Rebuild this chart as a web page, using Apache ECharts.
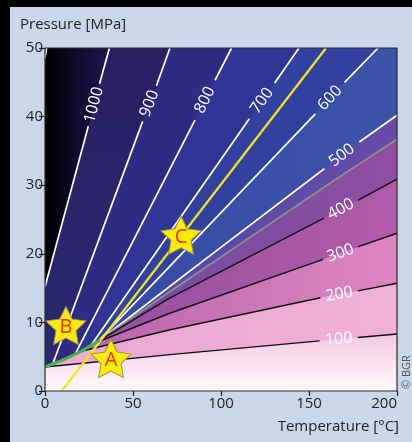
<!DOCTYPE html>
<html><head><meta charset="utf-8">
<script src="https://cdn.jsdelivr.net/npm/echarts@6/dist/echarts.min.js"></script>
<style>html,body{margin:0;padding:0;background:#c9d7e9;overflow:hidden}#c{width:412px;height:442px}</style>
</head><body><div id="c"></div>
<script>
// ---- data ----
const xTicks = [0, 50, 100, 150, 200];
const yTicks = [0, 10, 20, 30, 40, 50];
const satCurve = [[0,3.5],[10,4.5],[20,5.7],[31,7.4]];
const iso1100 = [[0,48.5],[0.9,50]];
const iso1000 = [[0,15.2],[24.6,38.6],null,[31.0,44.8],[36.6,50]];
const iso900  = [[4.5,4.0],[55.5,39.3],null,[63.3,44.5],[71,50]];
const iso800  = [[17,5.3],[85.2,39.5],null,[96.6,45.3],[106,50]];
const iso700  = [[26,6.6],[116.1,39.7],null,[130.5,44.9],[144.3,50]];
const iso600  = [[30,7.2],[153.6,40.4],null,[170.2,45.0],[189.2,50]];
const iso500  = [[31,7.4],[91.5,19.3],[158.7,32.4],null,[178.6,36.3],[200,40.2]];
const isoCrit = [[31,7.4],[71,14.5],[164.8,30.8],[200,36.7]];
const iso400  = [[30.5,7.3],[70.5,13.5],[158.5,25.2],null,[177.7,27.8],[200,30.9]];
const iso300  = [[28.5,7.0],[70.5,11.3],[158,19.2],null,[177.7,21.0],[200,23.0]];
const iso200  = [[20.5,5.8],[70.5,8.9],[156.5,13.6],null,[177.7,14.6],[200,15.7]];
const iso100  = [[0,3.5],[71,5.3],[156,7.3],null,[177.7,7.8],[200,8.3]];
const geoGradient = [[9.5,0],[159.7,50]];
const labelText = ['1000','900','800','700','600','500','400','300','200','100'];
const labelT = [27.8, 59.4, 90.9, 123.3, 161.9, 168.7, 168.1, 167.9, 167.1, 166.9];
const labelP = [41.7, 41.9, 42.4, 42.3, 42.7, 34.35, 26.5, 20.1, 14.1, 7.55];
const starNames = ['A','B','C'];
const starT = [37.5, 11.9, 77.3];
const starP = [4.74, 9.55, 22.7];

// ---- rendering ----
const FONT = '"Open Sans", "Noto Sans", sans-serif';
const labelLines = [iso1000, iso900, iso800, iso700, iso600, iso500, iso400, iso300, iso200, iso100];
const LG = (x0,y0,x1,y1,stops) => new echarts.graphic.LinearGradient(x0,y0,x1,y1,stops.map(s=>({offset:s[0],color:s[1]})));

function regionBelow(line){
  const pts = line.filter(p => p);
  const start = pts[0], end = pts[pts.length-1];
  const poly = pts.slice();
  if (end[1] >= 50 && end[0] < 200) poly.push([200,50]);
  poly.push([200,0],[0,0]);
  if (start[0] > 0) satCurve.forEach(s => { if (s[0] < start[0]) poly.push(s); });
  return poly;
}
const bands = [
  {pts: [[0,0],[0,50],[200,50],[200,0]], fill: LG(0,0,1,0,[[0,'#000000'],[0.08,'#0e0829'],[0.18,'#1f1650'],[1,'#2a2266']])},
  {pts: regionBelow(iso1000), fill: LG(0,0,0,1,[[0,'#2a1f62'],[1,'#2a2a74']])},
  {pts: regionBelow(iso900), fill: '#2d2c82'},
  {pts: regionBelow(iso800), fill: '#2f3594'},
  {pts: regionBelow(iso700), fill: '#3240a0'},
  {pts: regionBelow(iso600), fill: LG(0,0,1,0,[[0,'#3548a6'],[1,'#3b55a9']])},
  {pts: regionBelow(iso500), fill: LG(0,0,1,0,[[0,'#4a4aa6'],[1,'#664ba8']])},
  {pts: regionBelow(isoCrit), fill: LG(0,0,1,0,[[0,'#6a4a9e'],[1,'#904ea2']])},
  {pts: regionBelow(iso400), fill: LG(0,0,1,0,[[0,'#8e4e9f'],[1,'#b25ba9']])},
  {pts: regionBelow(iso300), fill: LG(0,0,1,0,[[0.1,'#b864ae'],[1,'#de86c2']])},
  {pts: regionBelow(iso200), fill: LG(0,0,1,0,[[0,'#eaa8d2'],[1,'#f0b0d7']])},
  {pts: regionBelow(iso100), fill: LG(0,0,0,1,[[0,'#f5c9e2'],[1,'#fffafc']])}
];

function segs(arr){
  const out=[]; let cur=[];
  arr.forEach(p => { if (p) cur.push(p); else { out.push(cur); cur=[]; } });
  out.push(cur); return out;
}
const series = [];
series.push({
  type:'custom', silent:true, z:1, clip:true,
  data: bands.map(() => [0,0]),
  renderItem: (params, api) => ({
    type:'polygon',
    shape:{points: bands[params.dataIndex].pts.map(p => api.coord(p))},
    style:{fill: bands[params.dataIndex].fill}
  })
});
function addLine(arr, color, width, z){
  segs(arr).forEach(s => series.push({
    type:'line', data:s, symbol:'none', silent:true, z:z||3,
    lineStyle:{color, width}, clip:true
  }));
}
[iso1100, iso1000, iso900, iso800, iso700, iso600, iso500].forEach(a => addLine(a, '#ffffff', 1.7));
addLine(isoCrit, '#8e8e8e', 1.7);
[iso400, iso300, iso200, iso100].forEach(a => addLine(a, '#111111', 1.4));
addLine(geoGradient, '#eee620', 2.2, 4);
addLine(satCurve, '#4caf4a', 3, 5);

series.push({
  type:'custom', silent:true, z:6,
  data: labelText.map((t,i) => [labelT[i], labelP[i]]),
  renderItem: (params, api) => {
    const i = params.dataIndex;
    const c = api.coord([api.value(0), api.value(1)]);
    const line = labelLines[i];
    const k = line.indexOf(null);
    const a = api.coord(line[k-1]), b = api.coord(line[k+1]);
    const rot = Math.atan2(a[1]-b[1], b[0]-a[0]);
    return {type:'text', x:c[0], y:c[1], rotation:rot,
      style:{text:labelText[i], fill:'#ffffff', fontSize:16, fontFamily:FONT, align:'center', verticalAlign:'middle'}};
  }
});
series.push({
  type:'custom', silent:true, z:7,
  data:[[0,0]],
  renderItem: (params, api) => {
    const p0 = api.coord([0,50]), p1 = api.coord([200,0]);
    return {type:'rect', shape:{x:p0[0], y:p0[1], width:p1[0]-p0[0], height:p1[1]-p0[1]},
      style:{fill:null, stroke:'#2a2a2a', lineWidth:1.2}};
  }
});
series.push({
  type:'scatter', z:8, silent:true,
  symbol:'path://M50,0L64.7,29.8L97.6,34.5L73.8,57.7L79.4,90.5L50,75L20.6,90.5L26.2,57.7L2.4,34.5L35.3,29.8Z',
  symbolSize:[40,38],
  itemStyle:{color:'#ffec00', borderColor:'#9c9650', borderWidth:1, opacity:1},
  label:{show:true, position:'inside', formatter:p => p.name, color:'#ee2a24', fontSize:20, fontFamily:FONT, offset:[0,2]},
  data: starNames.map((n,i) => ({name:n, value:[starT[i], starP[i]]}))
});

const chart = echarts.init(document.getElementById('c'), null, {renderer:'canvas'});
chart.setOption({
  animation:false,
  backgroundColor:'#c9d7e9',
  grid:{left:45, right:15, top:48, bottom:51, containLabel:false},
  xAxis:{type:'value', min:xTicks[0], max:xTicks[xTicks.length-1], interval:xTicks[1]-xTicks[0],
    axisLine:{show:false}, splitLine:{show:false},
    axisTick:{show:true, length:5, lineStyle:{color:'#222', width:1.2}},
    axisLabel:{fontSize:15, color:'#222', fontFamily:FONT, margin:5, alignMaxLabel:'right'}},
  yAxis:{type:'value', min:yTicks[0], max:yTicks[yTicks.length-1], interval:yTicks[1]-yTicks[0],
    axisLine:{show:false}, splitLine:{show:false},
    axisTick:{show:true, length:6, lineStyle:{color:'#222', width:1.2}},
    axisLabel:{fontSize:15, color:'#222', fontFamily:FONT, margin:2}},
  graphic:[
    {type:'rect', x:0, y:0, shape:{width:412, height:7}, style:{fill:'#000'}, z:100},
    {type:'rect', x:0, y:0, shape:{width:10, height:442}, style:{fill:'#000'}, z:100},
    {type:'text', x:20, y:17, style:{text:'Pressure [MPa]', fontSize:15, fill:'#222', fontFamily:FONT}, z:100},
    {type:'text', x:399, y:427, style:{text:'Temperature [°C]', fontSize:15, fill:'#222', fontFamily:FONT, align:'right', verticalAlign:'middle'}, z:100},
    {type:'text', x:401, y:389, rotation:Math.PI/2, style:{text:'© BGR', fontSize:11, fill:'#555', fontFamily:FONT, verticalAlign:'top'}, z:100}
  ],
  series
});
</script>
</body></html>
